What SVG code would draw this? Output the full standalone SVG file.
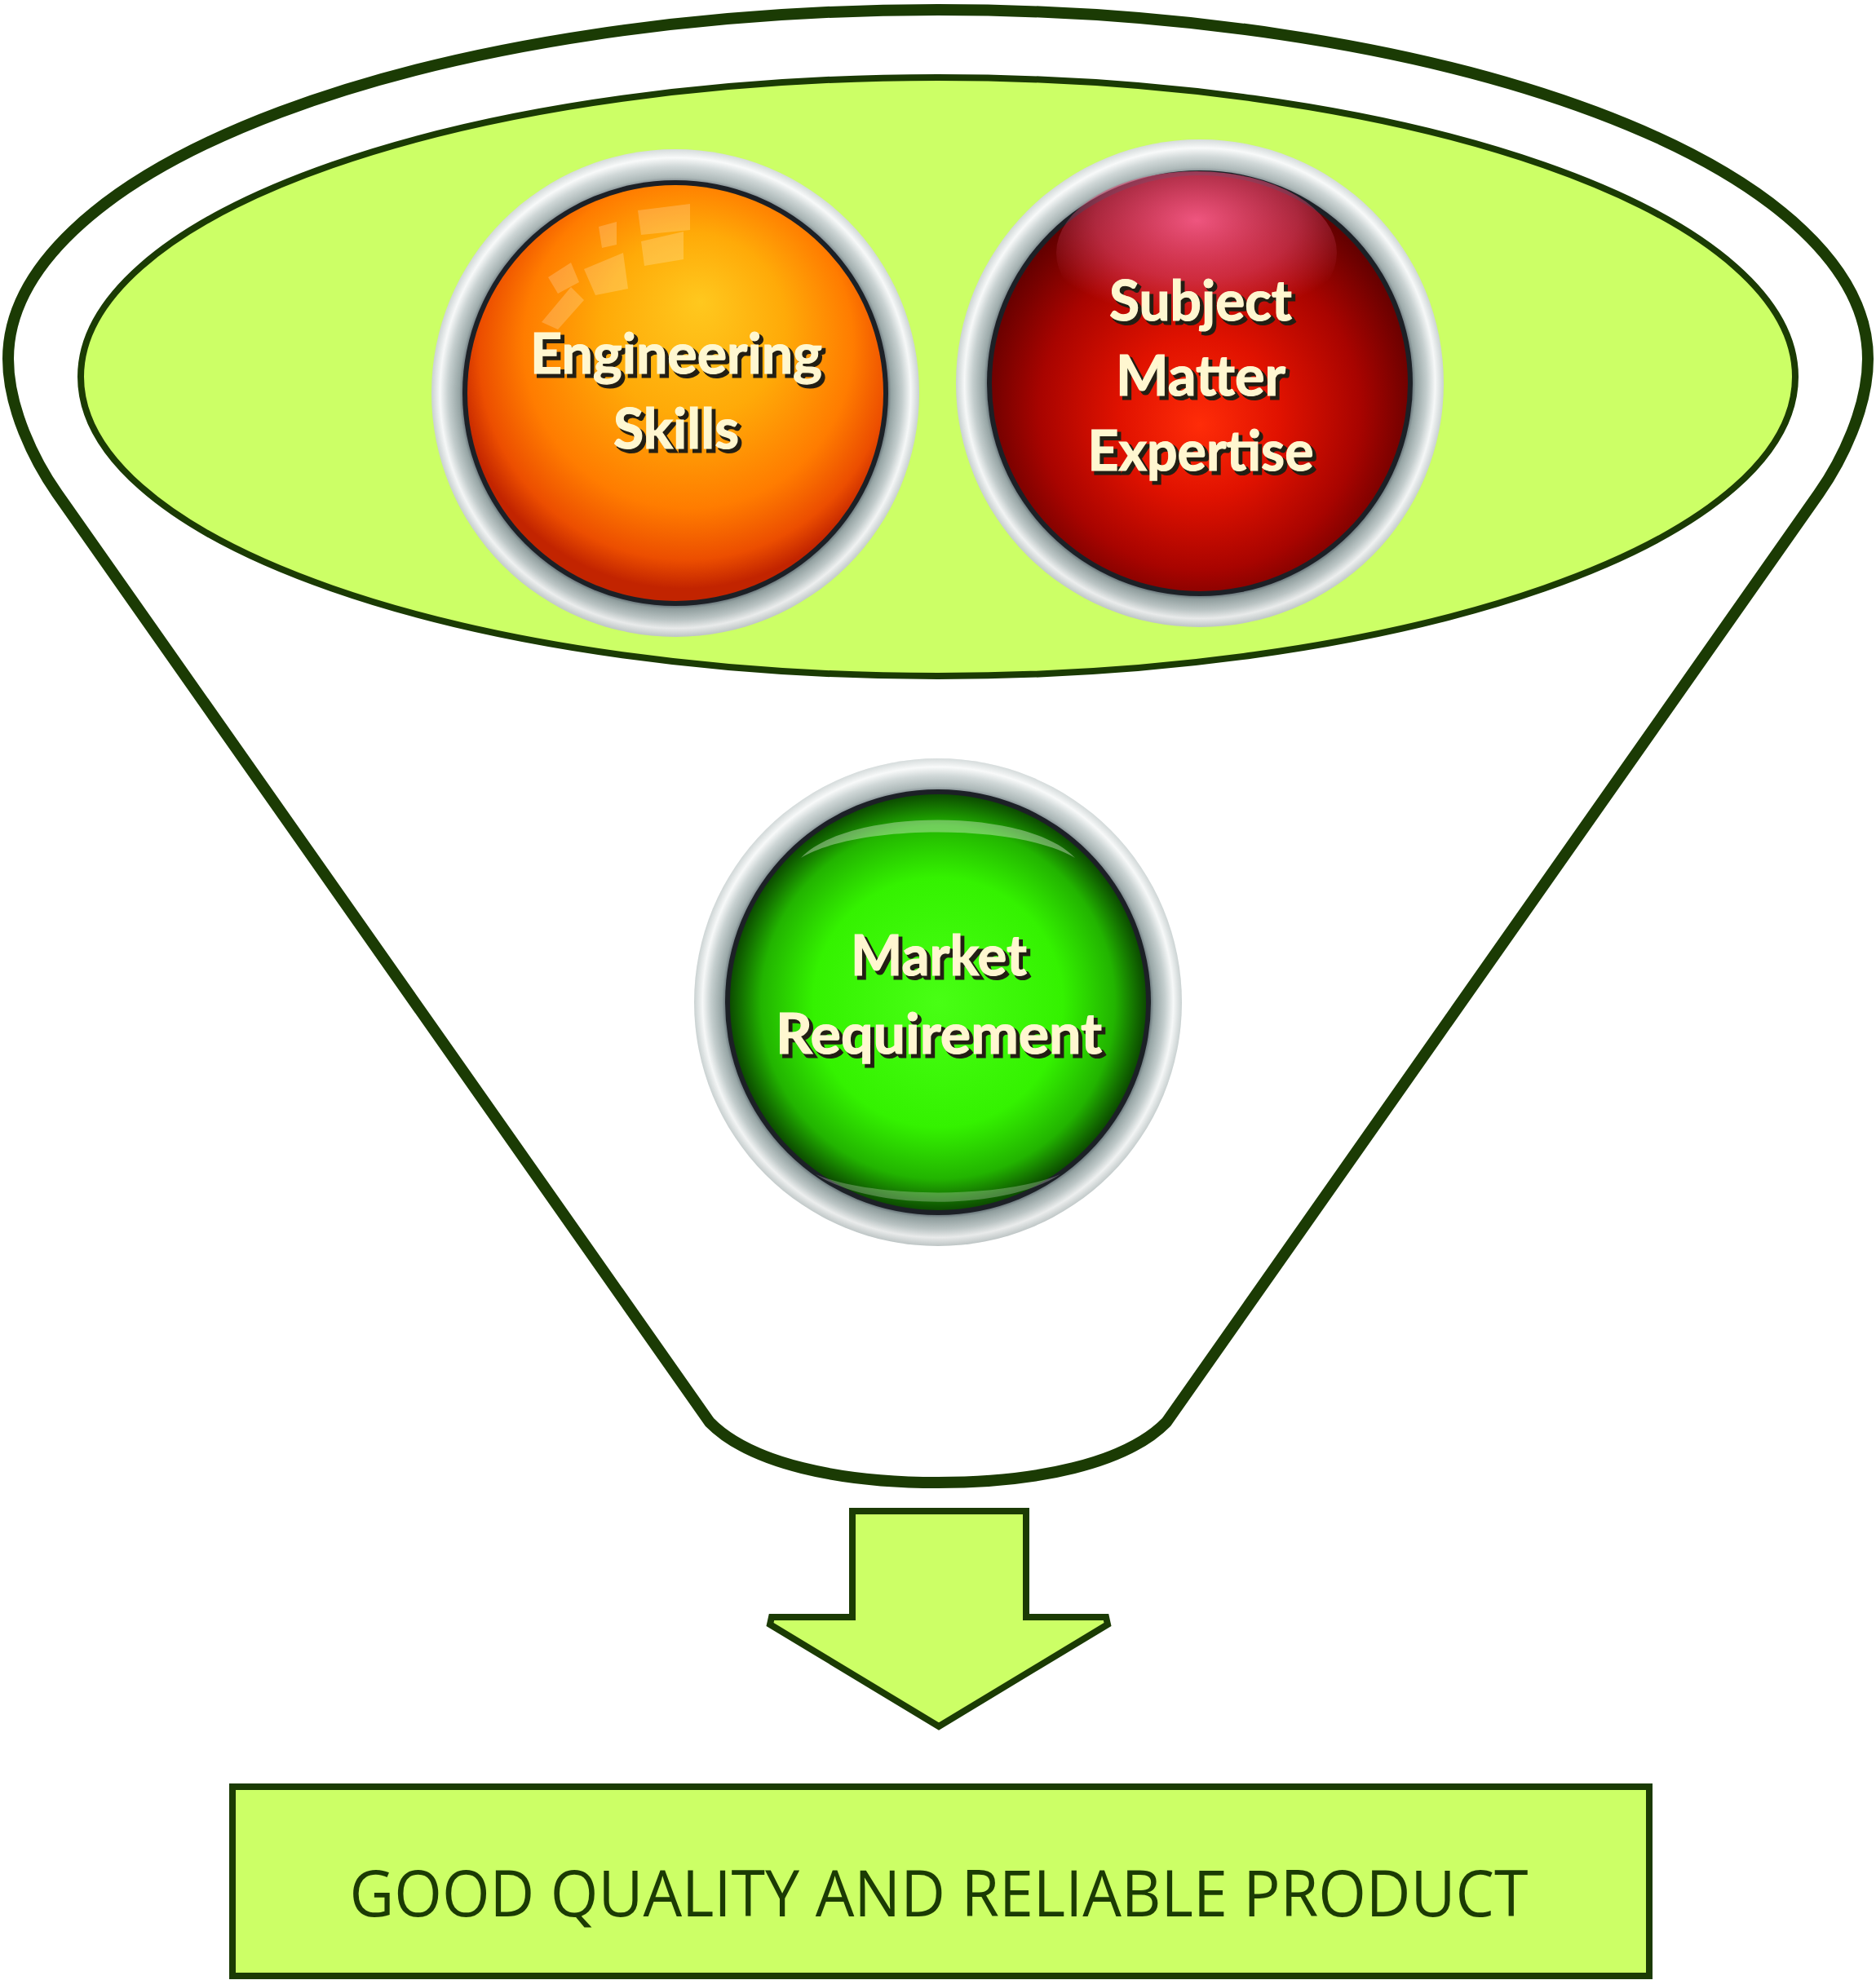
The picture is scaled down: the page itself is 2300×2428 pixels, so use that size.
<svg xmlns="http://www.w3.org/2000/svg" width="2300" height="2428" viewBox="0 0 2300 2428">
<style>
.dk{stroke:#1B3B04;stroke-linejoin:miter}
.lime{fill:#CCFF66}
.lbl{font-family:Lato,"Open Sans","Liberation Sans",sans-serif;font-weight:bold;font-size:68px;text-anchor:middle}
.sh{fill:#231f14;stroke:#231f14;stroke-width:3}
.fg{fill:#FFF7D0;stroke:#FFF7D0;stroke-width:1.2}
.prod{font-family:"Open Sans",Lato,"Liberation Sans",sans-serif;font-size:78px;fill:#1B3B04;text-anchor:middle}
</style>
<defs>
<radialGradient id="ring" cx="0.5" cy="0.5" r="0.5">
<stop offset="0.86" stop-color="#46525c"/>
<stop offset="0.885" stop-color="#95a4a4"/>
<stop offset="0.93" stop-color="#c3cdcd"/>
<stop offset="0.965" stop-color="#f6f8f8"/>
<stop offset="1" stop-color="#c9d1d1"/>
</radialGradient>
<linearGradient id="ringShade" x1="0" y1="0" x2="0" y2="1">
<stop offset="0" stop-color="#ffffff" stop-opacity="0.25"/>
<stop offset="0.5" stop-color="#ffffff" stop-opacity="0"/>
<stop offset="1" stop-color="#000000" stop-opacity="0.06"/>
</linearGradient>
<radialGradient id="orange" cx="0.52" cy="0.42" r="0.55" fx="0.56" fy="0.28">
<stop offset="0" stop-color="#FFC81E"/>
<stop offset="0.4" stop-color="#FFAA08"/>
<stop offset="0.72" stop-color="#FF7C00"/>
<stop offset="0.9" stop-color="#EC4E00"/>
<stop offset="1" stop-color="#C22400"/>
</radialGradient>
<radialGradient id="red" cx="0.5" cy="0.55" r="0.55" fx="0.5" fy="0.6">
<stop offset="0" stop-color="#FF2C08"/>
<stop offset="0.35" stop-color="#E01200"/>
<stop offset="0.7" stop-color="#A80400"/>
<stop offset="1" stop-color="#5C0000"/>
</radialGradient>
<radialGradient id="pink" cx="0.5" cy="0.3" r="0.6">
<stop offset="0" stop-color="#F45A86" stop-opacity="0.95"/>
<stop offset="0.6" stop-color="#E04870" stop-opacity="0.55"/>
<stop offset="1" stop-color="#E04870" stop-opacity="0"/>
</radialGradient>
<radialGradient id="green" cx="0.5" cy="0.5" r="0.5">
<stop offset="0" stop-color="#48FF14"/>
<stop offset="0.6" stop-color="#34F200"/>
<stop offset="0.85" stop-color="#22B400"/>
<stop offset="1" stop-color="#0C4C00"/>
</radialGradient>
</defs>

<g id="funnel">
<path class="dk" fill="#FFFFFF" stroke-width="14" d="M 10 440 C 10 500 42 565 70 605 L 870 1744 C 920 1795 1030 1818 1150 1818 C 1270 1818 1380 1795 1430 1744 L 2230 605 C 2258 565 2290 500 2290 440 A 1140 428 0 0 0 10 440 Z"/>
</g>

<g id="top-ellipse">
<ellipse class="dk lime" stroke-width="8" cx="1150" cy="462" rx="1051" ry="367"/>
</g>

<g id="node-engineering">
<circle cx="828" cy="482" r="299" fill="url(#ring)"/>
<circle cx="828" cy="482" r="299" fill="url(#ringShade)"/>
<circle cx="828" cy="482" r="261" fill="#1c2026"/>
<circle cx="828" cy="482" r="255" fill="url(#orange)"/>
<g fill="#FFFFFF" opacity="0.2">
<path d="M 664 395 L 700 352 L 716 368 L 684 404 Z"/>
<path d="M 672 340 L 700 322 L 710 346 L 684 360 Z"/>
<path d="M 716 330 L 764 310 L 770 354 L 730 362 Z"/>
<path d="M 786 296 L 838 284 L 838 318 L 790 326 Z"/>
<path d="M 734 278 L 756 272 L 756 300 L 738 304 Z"/>
<path d="M 782 258 L 846 250 L 846 282 L 786 288 Z"/>
</g>
<text class="lbl sh" x="833" y="462" textLength="358" lengthAdjust="spacingAndGlyphs">Engineering</text>
<text class="lbl fg" x="829" y="458" textLength="358" lengthAdjust="spacingAndGlyphs">Engineering</text>
<text class="lbl sh" x="833" y="554" textLength="154" lengthAdjust="spacingAndGlyphs">Skills</text>
<text class="lbl fg" x="829" y="550" textLength="154" lengthAdjust="spacingAndGlyphs">Skills</text>
</g>

<g id="node-subject">
<circle cx="1471" cy="470" r="299" fill="url(#ring)"/>
<circle cx="1471" cy="470" r="299" fill="url(#ringShade)"/>
<circle cx="1471" cy="470" r="261" fill="#1c2026"/>
<circle cx="1471" cy="470" r="255" fill="url(#red)"/>
<ellipse cx="1467" cy="310" rx="172" ry="100" fill="url(#pink)"/>
<text class="lbl sh" x="1476" y="397" textLength="224" lengthAdjust="spacingAndGlyphs">Subject</text>
<text class="lbl fg" x="1472" y="393" textLength="224" lengthAdjust="spacingAndGlyphs">Subject</text>
<text class="lbl sh" x="1476" y="489" textLength="208" lengthAdjust="spacingAndGlyphs">Matter</text>
<text class="lbl fg" x="1472" y="485" textLength="208" lengthAdjust="spacingAndGlyphs">Matter</text>
<text class="lbl sh" x="1476" y="581" textLength="277" lengthAdjust="spacingAndGlyphs">Expertise</text>
<text class="lbl fg" x="1472" y="577" textLength="277" lengthAdjust="spacingAndGlyphs">Expertise</text>
</g>

<g id="node-market">
<circle cx="1150" cy="1229" r="299" fill="url(#ring)"/>
<circle cx="1150" cy="1229" r="299" fill="url(#ringShade)"/>
<circle cx="1150" cy="1229" r="261" fill="#1c2026"/>
<circle cx="1150" cy="1229" r="255" fill="url(#green)"/>
<path d="M 982 1052 C 1040 990 1260 990 1318 1052 C 1250 1010 1050 1010 982 1052 Z" fill="#FFFFFF" opacity="0.35"/>
<path d="M 1000 1440 C 1070 1485 1230 1485 1300 1440 C 1230 1470 1070 1470 1000 1440 Z" fill="#FFFFFF" opacity="0.25"/>
<text class="lbl sh" x="1155" y="1200" textLength="216" lengthAdjust="spacingAndGlyphs">Market</text>
<text class="lbl fg" x="1151" y="1196" textLength="216" lengthAdjust="spacingAndGlyphs">Market</text>
<text class="lbl sh" x="1155" y="1296" textLength="400" lengthAdjust="spacingAndGlyphs">Requirement</text>
<text class="lbl fg" x="1151" y="1292" textLength="400" lengthAdjust="spacingAndGlyphs">Requirement</text>
</g>

<g id="connectors">
<polygon class="dk lime" stroke-width="8" points="1045,1853 1258,1853 1258,1983 1356,1983 1358,1992 1151,2117 944,1992 946,1983 1045,1983"/>
</g>

<g id="node-product">
<rect class="dk lime" stroke-width="8" x="285" y="2191" width="1737" height="232"/>
<text class="prod" x="1151" y="2350" textLength="1445" lengthAdjust="spacingAndGlyphs">GOOD QUALITY AND RELIABLE PRODUCT</text>
</g>
</svg>
